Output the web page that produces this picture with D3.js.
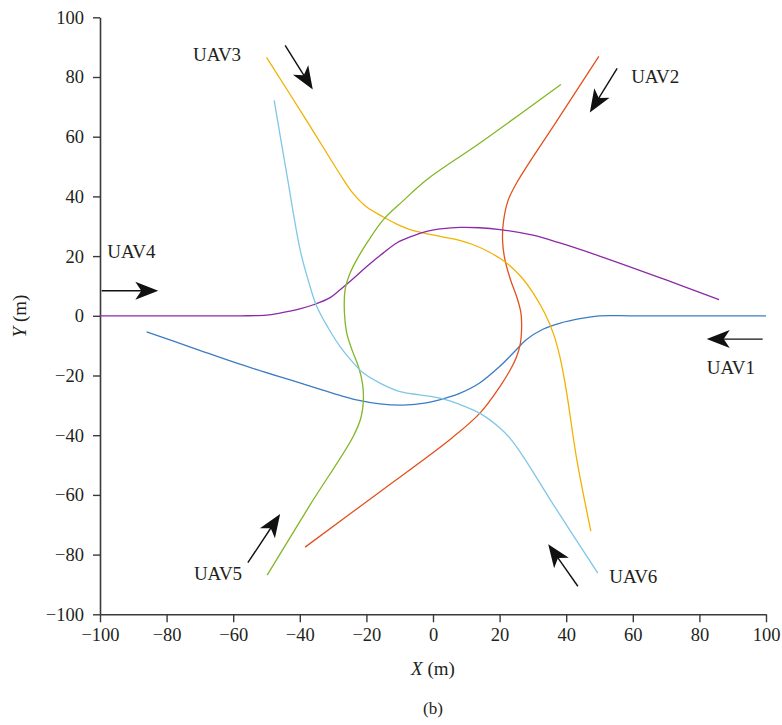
<!DOCTYPE html>
<html>
<head>
<meta charset="utf-8">
<script src="https://cdn.jsdelivr.net/npm/d3@7"></script>
<style>
  html, body { margin: 0; padding: 0; background: #fff; }
  svg { display: block; }
  text { font-family: "Liberation Serif", "Times New Roman", serif; fill: #231f20; }
</style>
</head>
<body>
<svg id="chart" width="782" height="725"></svg>
<script>
// ---- data (metres) ----
const xTicks = [-100, -80, -60, -40, -20, 0, 20, 40, 60, 80, 100];
const yTicks = [-100, -80, -60, -40, -20, 0, 20, 40, 60, 80, 100];

const uav1 = [[100,0],[80,0],[60,0],[50,0],[45,-0.8],[38,-2.5],[33,-4.5],[28,-8],[25,-11.4],[20,-17],[14,-22.5],[8,-26],[4,-27.5],[-2,-29.2],[-9,-29.9],[-16,-29.5],[-23,-28.2],[-30,-26],[-40,-22.5],[-58,-16.2],[-72,-10.8],[-86,-5.4]];
const uav2 = [[49.8,86.9],[37,65],[25.1,44.5],[22.5,38.5],[21.1,31],[20.9,25],[21.6,18.8],[23.3,12],[25.1,6.5],[26.4,1],[26.6,-4.7],[26.2,-9.5],[25.1,-13.7],[23,-18.5],[20.1,-23.7],[14.1,-32.6],[5.6,-41],[-16,-59],[-38.4,-77.5]];
const uav3 = [[-50,86.6],[-38,65.5],[-27,45.8],[-24,41],[-20,36.5],[-14.9,33.1],[-9.9,30.2],[-5.9,28.5],[2.1,26.6],[8,25.3],[12.1,23.8],[17,21.3],[22.1,17.7],[26.5,13],[30.1,7.6],[33.5,1],[36.1,-5.8],[38.1,-13.7],[40,-24.8],[43.2,-48.3],[47.4,-72.1]];
const uav4 = [[-100,0],[-80,0],[-58,0],[-50,0.2],[-46,0.9],[-40,2.3],[-35.9,3.7],[-31,6],[-27.9,8.7],[-24,12.4],[-19.9,16.5],[-15,21],[-10.9,24.4],[-6,26.8],[-1.9,28.3],[3,29.2],[8.1,29.6],[14,29.5],[20.1,28.9],[30,27],[38.1,24.4],[50,20],[70,12],[85.9,5.4]];
const uav5 = [[-49.8,-86.9],[-37,-63.5],[-24,-40.5],[-21.6,-34],[-20.9,-28.2],[-21.2,-22.5],[-22.4,-17],[-24.3,-11.5],[-25.9,-5.8],[-26.6,1],[-26.4,8.7],[-25,14],[-22.9,18.8],[-19.5,25],[-14.9,32.2],[-9,38.5],[-1.9,45.6],[14.1,57.9],[38.4,77.5]];
const uav6 = [[49.5,-86.2],[36,-63],[27,-47],[23.1,-41],[20,-37.5],[14.1,-32.7],[8,-29.7],[2.1,-27.6],[-4,-26.5],[-9.9,-25.4],[-15.5,-22.8],[-20.9,-19.2],[-24.5,-15],[-27.9,-10.3],[-31.5,-4],[-34.9,3.1],[-37.5,12],[-39.9,22.1],[-43.8,46.7],[-47.7,72.2]];

const seriesNames = ["UAV1","UAV2","UAV3","UAV4","UAV5","UAV6"];
const seriesData = [uav1, uav2, uav3, uav4, uav5, uav6];
const seriesColors = ["#3b7cc4","#e2511d","#f2b103","#8c2aa7","#82b623","#7fc7e6"];

// labels [name, x, y] (data coords of text start / baseline)
const labelPos = [["UAV1",82.2,-19.5],["UAV2",59.5,78.1],["UAV3",-72.1,85.2],["UAV4",-97.8,19.4],["UAV5",-71.8,-88.6],["UAV6",52.9,-89.4]];
// arrows [x0,y0 -> x1,y1] (data coords, tail to tip)
const arrows = [[99,-7.8,82.2,-7.8],[55.3,82.9,47.1,68.1],[-44.4,90.6,-36.1,75.8],[-99.5,8.4,-82.5,8.4],[-55.6,-82.7,-45.9,-66.4],[43.5,-90.6,34.6,-76.5]];

// ---- drawing ----
const svg = d3.select("#chart");
const x = d3.scaleLinear().domain([-100,100]).range([100,766]);
const y = d3.scaleLinear().domain([-100,100]).range([614.3,17.3]);
const axisColor = "#3a3a3a";

const xAxis = svg.append("g").attr("transform","translate(0,614.3)")
  .call(d3.axisBottom(x).tickValues(xTicks).tickSize(8).tickSizeOuter(0).tickPadding(6));
const yAxis = svg.append("g").attr("transform","translate(100,0)")
  .call(d3.axisLeft(y).tickValues(yTicks).tickSize(7).tickSizeOuter(0).tickPadding(9));
[xAxis, yAxis].forEach(g => {
  g.select(".domain").attr("stroke",axisColor).attr("stroke-width",1.6);
  g.selectAll(".tick line").attr("stroke",axisColor).attr("stroke-width",1.4);
  g.selectAll(".tick text").attr("font-size",18.5).attr("font-family","Liberation Serif, serif").attr("fill","#231f20");
});

const line = d3.line().x(d => x(d[0])).y(d => y(d[1])).curve(d3.curveCatmullRom.alpha(0.5));
seriesData.forEach((d,i) => {
  svg.append("path").datum(d).attr("d",line)
    .attr("fill","none").attr("stroke",seriesColors[i]).attr("stroke-width",1.3);
});

// arrows
arrows.forEach(a => {
  const x0 = x(a[0]), y0 = y(a[1]), x1 = x(a[2]), y1 = y(a[3]);
  const ang = Math.atan2(y1-y0, x1-x0) * 180 / Math.PI;
  const len = Math.hypot(x1-x0, y1-y0);
  const g = svg.append("g").attr("transform",`translate(${x0},${y0}) rotate(${ang})`);
  g.append("line").attr("x1",0).attr("y1",0).attr("x2",len-12).attr("y2",0)
    .attr("stroke","#111").attr("stroke-width",1.4);
  g.append("path").attr("d",`M${len},0 L${len-23},-9 L${len-17},0 L${len-23},9 Z`).attr("fill","#111");
});

// labels
labelPos.forEach(l => {
  svg.append("text").attr("x",x(l[1])).attr("y",y(l[2])).attr("font-size",19).text(l[0]);
});

// axis titles
svg.append("text").attr("x",433).attr("y",675).attr("text-anchor","middle").attr("font-size",19)
  .html('<tspan font-style="italic">X</tspan> (m)');
svg.append("text").attr("transform","translate(26,316) rotate(-90)").attr("text-anchor","middle").attr("font-size",19)
  .html('<tspan font-style="italic">Y</tspan> (m)');
svg.append("text").attr("x",433).attr("y",714).attr("text-anchor","middle").attr("font-size",17).text("(b)");
</script>
</body>
</html>
